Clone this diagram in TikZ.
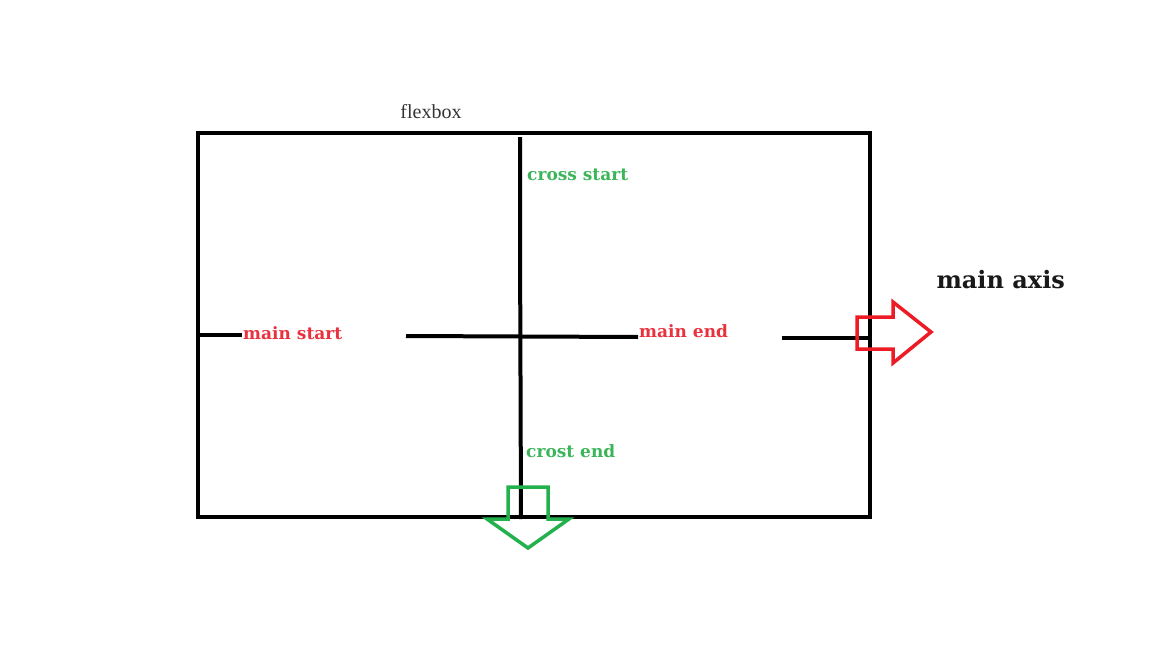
\documentclass[tikz,border=0pt]{standalone}
\usepackage{fontspec}
\setmainfont{DejaVu Serif}
\newfontfamily\plainserif{Liberation Serif}
\usepackage{xcolor}
\usepackage{tikz}
\usetikzlibrary{calc,positioning}
\definecolor{mainred}{HTML}{E8333F}
\definecolor{arrowred}{HTML}{ED1C24}
\definecolor{crossgreen}{HTML}{3CB55A}
\definecolor{arrowgreen}{HTML}{22B14C}

\begin{document}
\begin{tikzpicture}[x=1pt,y=-1pt,
    boxline/.style={black, line width=4.5pt},
    axisline/.style={black, line width=4pt},
    mainlabel/.style={mainred, font=\fontsize{17}{20}\selectfont\bfseries, inner sep=1pt},
    crosslabel/.style={crossgreen, font=\fontsize{17}{20}\selectfont\bfseries, inner sep=1pt},
    blockarrow/.style={line width=3.5pt, line join=miter}]
    \useasboundingbox (0,0) rectangle (1152,648);

    % container
    \draw[boxline] (198,133) rectangle (870,517);
    \node[font=\plainserif\fontsize{20}{24}\selectfont, text=black!80] (flexbox) at (431,112) {flexbox};

    % cross axis line
    \coordinate (ctop) at (520,137);
    \coordinate (cbot) at (521,519);
    \draw[axisline] (ctop) -- (520,235) -- (cbot);

    % main axis line, in pieces round the labels
    \coordinate (mleft) at (196,335);
    \coordinate (mright) at (868,338);
    \node[mainlabel, anchor=west] (mstart) at (242,333) {main start};
    \node[mainlabel, anchor=west] (mend) at (638,331) {main end};
    \draw[axisline] (mleft) -- (mstart.west |- mleft);
    \draw[axisline] (406,336) -- (mend.west |- 0,337);
    \draw[axisline] (782,338) -- (mright);

    \node[crosslabel, anchor=west] (cstart) at (526,175) {cross start};
    \node[crosslabel, anchor=west] (cend) at (525,451) {crost end};

    % direction arrows
    \draw[blockarrow, arrowred] (857,317) -- (893,317) -- (893,302) -- (931,332)
        -- (893,363) -- (893,349) -- (857,349) -- cycle;
    \draw[blockarrow, arrowgreen] (508,487) -- (548,487) -- (548,519) -- (569,519)
        -- (528,548) -- (487,519) -- (508,519) -- cycle;

    \node[font=\fontsize{24}{28}\selectfont\bfseries, text=black!90, anchor=west] (axisname) at (933,280) {main axis};
\end{tikzpicture}
\end{document}
